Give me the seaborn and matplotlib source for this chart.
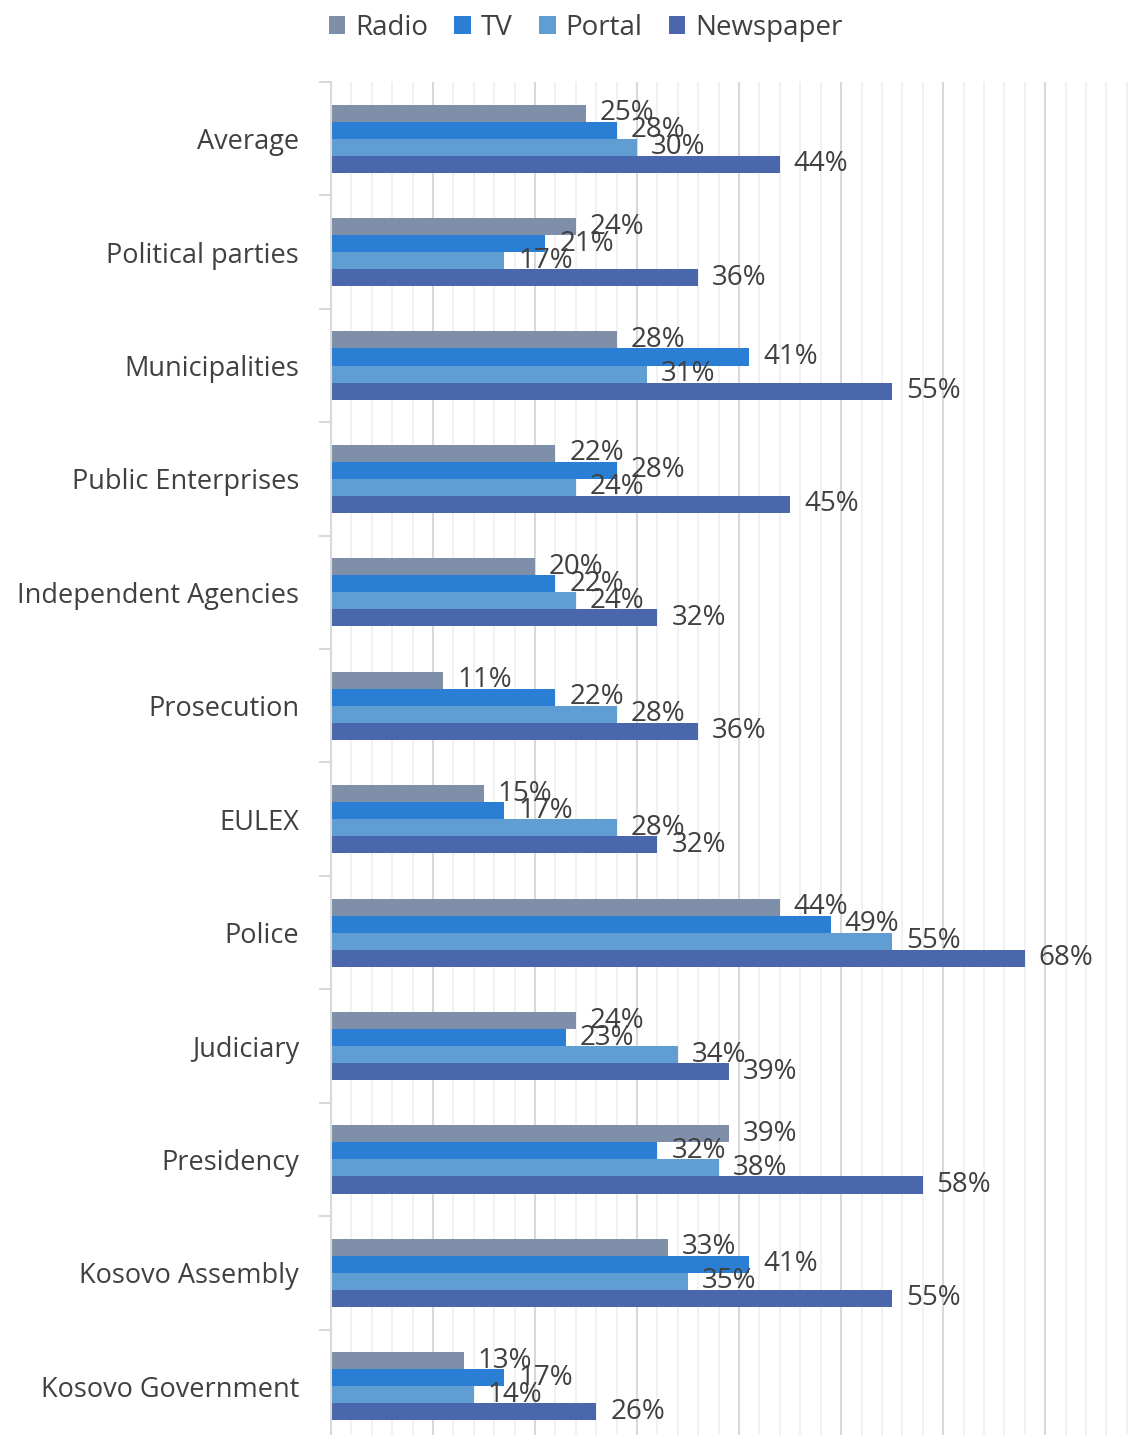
import matplotlib
matplotlib.use("Agg")
import matplotlib.pyplot as plt
from matplotlib.patches import Patch
from matplotlib.ticker import MultipleLocator, FixedLocator, NullFormatter
import seaborn as sns
import pandas as pd

categories = ["Average", "Political parties", "Municipalities", "Public Enterprises",
              "Independent Agencies", "Prosecution", "EULEX", "Police", "Judiciary",
              "Presidency", "Kosovo Assembly", "Kosovo Government"]
series = ["Radio", "TV", "Portal", "Newspaper"]
radio = [25, 24, 28, 22, 20, 11, 15, 44, 24, 39, 33, 13]
tv = [28, 21, 41, 28, 22, 22, 17, 49, 23, 32, 41, 17]
portal = [30, 17, 31, 24, 24, 28, 28, 55, 34, 38, 35, 14]
newspaper = [44, 36, 55, 45, 32, 36, 32, 68, 39, 58, 55, 26]
colors = ["#7F8FA9", "#2A7FD4", "#5F9DD2", "#4A66AC"]

rows = []
for s, vals in zip(series, [radio, tv, portal, newspaper]):
    for c, v in zip(categories, vals):
        rows.append({"Category": c, "Media": s, "Value": v / 100})
df = pd.DataFrame(rows)

sns.set_theme(style="white")
plt.rcParams["font.family"] = ["Open Sans", "DejaVu Sans"]
text_color = "#404040"

fig = plt.figure(figsize=(11.37, 14.35), dpi=100)
ax = fig.add_axes([0.2911, -0.0056, 0.7089, 0.9485])

sns.barplot(data=df, y="Category", x="Value", hue="Media", order=categories,
            hue_order=series, palette=colors, orient="h", width=0.6, gap=0,
            ax=ax, legend=False, saturation=1, edgecolor="none")

for cont, vals in zip(ax.containers, [radio, tv, portal, newspaper]):
    ax.bar_label(cont, labels=[f"{v}%" for v in vals], padding=10,
                 fontsize=20, color=text_color)

ax.set_xlim(0, 0.79)
ax.set_ylim(len(categories) - 0.5, -0.5)
ax.xaxis.set_major_locator(MultipleLocator(0.10))
ax.xaxis.set_minor_locator(MultipleLocator(0.02))
ax.xaxis.set_major_formatter(NullFormatter())
ax.grid(axis="x", which="major", color="#d9d9d9", linewidth=1.5)
ax.grid(axis="x", which="minor", color="#efefef", linewidth=1.2)
ax.set_axisbelow(True)
ax.tick_params(axis="x", which="both", length=0)

ax.yaxis.set_minor_locator(FixedLocator([i - 0.5 for i in range(len(categories) + 1)]))
ax.tick_params(axis="y", which="major", length=0, pad=23, labelsize=19.5, labelcolor=text_color)
ax.tick_params(axis="y", which="minor", length=9, width=1.5, color="#d9d9d9", left=True)

for side in ["top", "right", "bottom"]:
    ax.spines[side].set_visible(False)
ax.spines["left"].set_color("#d9d9d9")
ax.spines["left"].set_linewidth(1.5)
ax.set_xlabel("")
ax.set_ylabel("")

handles = [Patch(facecolor=c, edgecolor="none") for c in colors]
fig.legend(handles, series, loc="upper center", bbox_to_anchor=(0.515, 1.008), ncol=4,
           frameon=False, fontsize=20, handlelength=0.6, handleheight=0.6,
           handletextpad=0.35, columnspacing=0.95, labelcolor=text_color)

fig.savefig("out.png", dpi=100)
